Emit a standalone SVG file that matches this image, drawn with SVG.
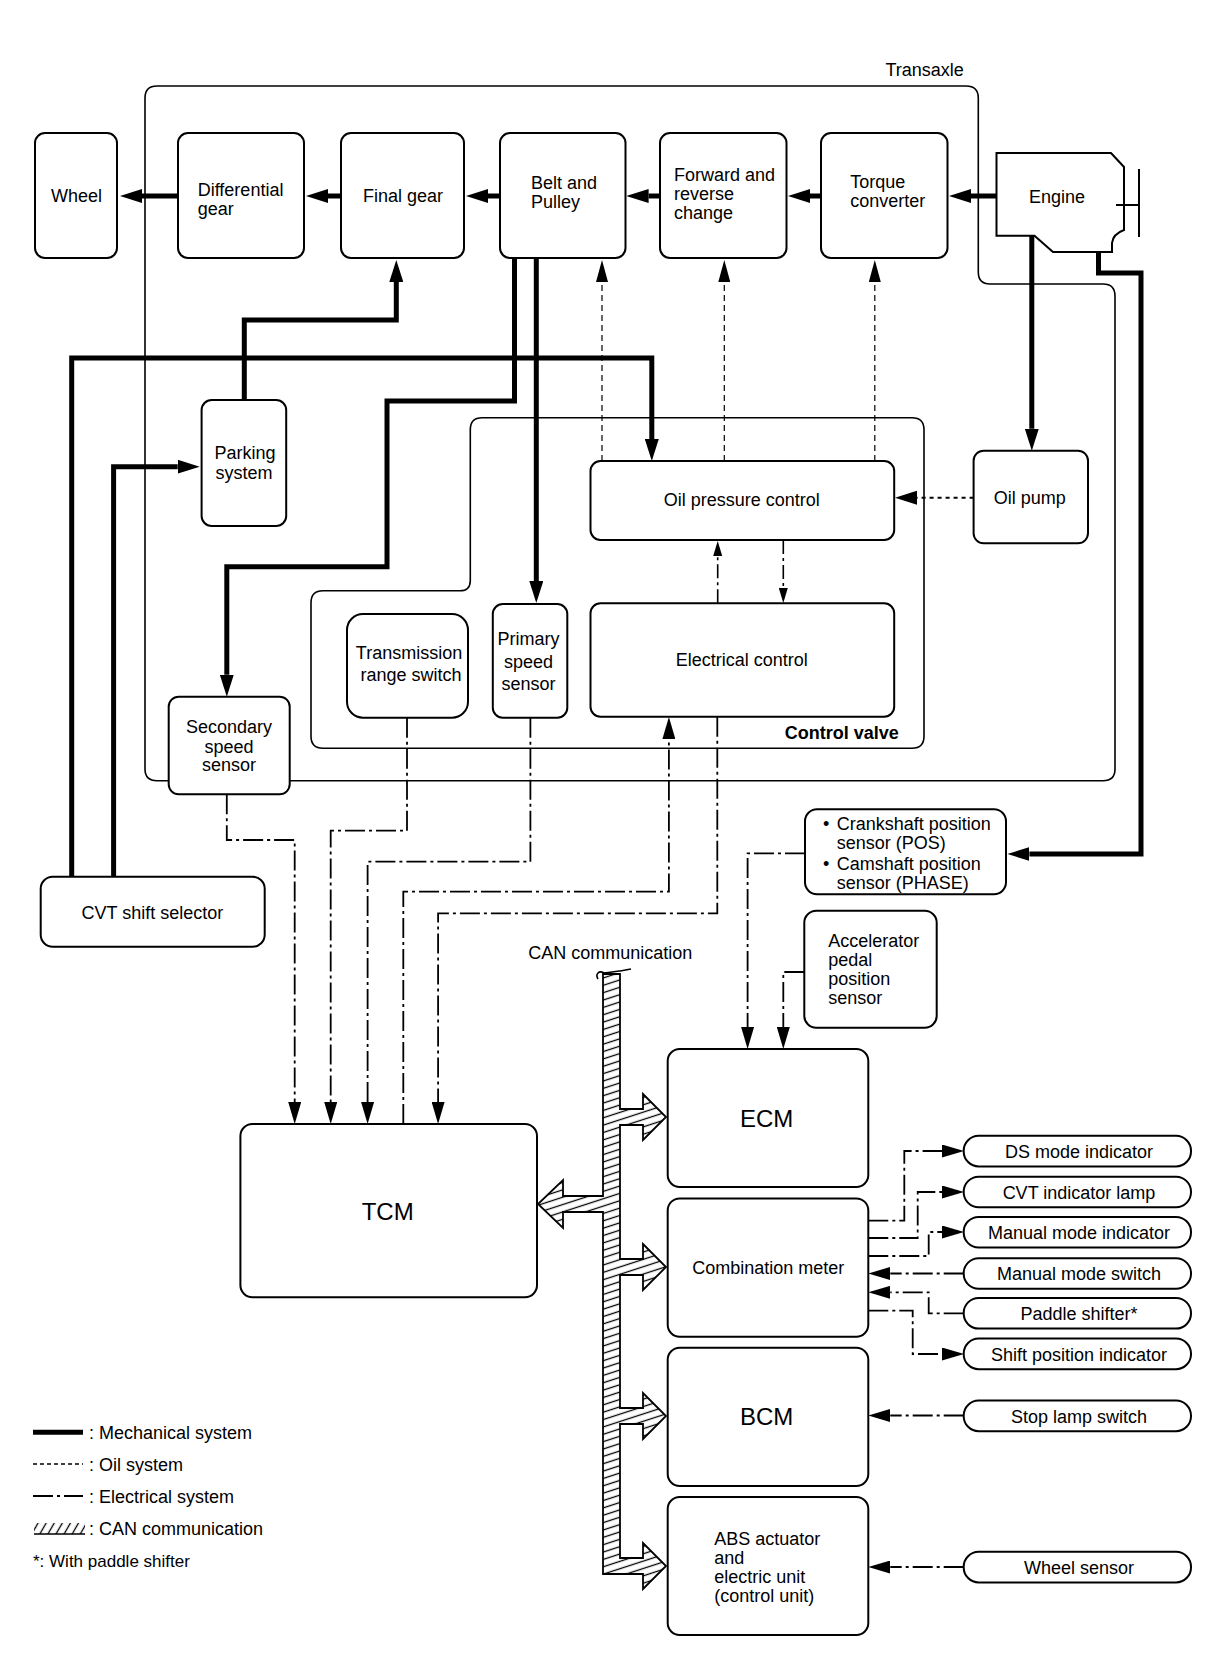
<svg xmlns="http://www.w3.org/2000/svg" width="1216" height="1660" viewBox="0 0 1216 1660">
<style>
.t{font-family:"Liberation Sans",Arial,Helvetica,sans-serif;font-size:18px;fill:#000}
.c{text-anchor:middle}
.e{text-anchor:end}
.b{font-weight:bold}
.big{font-size:24px}
.sm{font-size:17px}
.box{fill:#fff;stroke:#000;stroke-width:2}
.outl{fill:none;stroke:#000;stroke-width:1.6}
.mech{fill:none;stroke:#000;stroke-width:5;stroke-linejoin:miter;marker-end:url(#aM)}
.oil{fill:none;stroke:#000;stroke-width:1.2;stroke-dasharray:6 4;marker-end:url(#aO)}
.oil2{fill:none;stroke:#000;stroke-width:2;stroke-dasharray:4 4;marker-end:url(#aM)}
.elec{fill:none;stroke:#000;stroke-width:1.8;stroke-dasharray:20 4 3 4;marker-end:url(#aE)}
.elecs{fill:none;stroke:#000;stroke-width:1.6;stroke-dasharray:14 4 3 4;marker-end:url(#aS)}
</style>
<defs>
<marker id="aM" markerUnits="userSpaceOnUse" markerWidth="22" markerHeight="14" viewBox="0 0 22 14" refX="0" refY="7" orient="auto"><path d="M0,0 L22,7 L0,14 z" fill="#000"/></marker>
<marker id="aO" markerUnits="userSpaceOnUse" markerWidth="22" markerHeight="12" viewBox="0 0 22 12" refX="0" refY="6" orient="auto"><path d="M0,0 L22,6 L0,12 z" fill="#000"/></marker>
<marker id="aE" markerUnits="userSpaceOnUse" markerWidth="22" markerHeight="13" viewBox="0 0 22 13" refX="0" refY="6.5" orient="auto"><path d="M0,0 L22,6.5 L0,13 z" fill="#000"/></marker>
<marker id="aS" markerUnits="userSpaceOnUse" markerWidth="15" markerHeight="9" viewBox="0 0 15 9" refX="0" refY="4.5" orient="auto"><path d="M0,0 L15,4.5 L0,9 z" fill="#000"/></marker>
<pattern id="hatchBus" patternUnits="userSpaceOnUse" width="12" height="7" patternTransform="rotate(-18)"><rect width="12" height="7" fill="#fff"/><line x1="0" y1="3.5" x2="12" y2="3.5" stroke="#000" stroke-width="1.3"/></pattern>
<pattern id="hatchLeg" patternUnits="userSpaceOnUse" width="7" height="7" patternTransform="rotate(-60)"><rect width="7" height="7" fill="#fff"/><line x1="0" y1="3.5" x2="7" y2="3.5" stroke="#000" stroke-width="1.3"/></pattern>
</defs>
<rect width="1216" height="1660" fill="#fff"/>

<g id="outlines">
<path id="transaxle" class="outl" d="M145,98 Q145,86 157,86 H966 Q978.3,86 978.3,98 V272 Q978.3,284 990,284 H1103 Q1115,284 1115,296 V769 Q1115,780.7 1103,780.7 H157 Q145,780.7 145,769 Z"/>
<text class="t c" x="924.6" y="76">Transaxle</text>
<path id="control-valve" class="outl" d="M482,417.7 H912 Q924,417.7 924,429.7 V736.3 Q924,748.3 912,748.3 H323 Q311,748.3 311,736.3 V602.7 Q311,590.7 323,590.7 H460 Q470.3,590.7 470.3,580.4 V429.7 Q470.3,417.7 482,417.7 Z"/>
<text class="t e b" x="898.8" y="739">Control valve</text>
</g>

<g id="connectors">
<path class="mech" d="M996.5,196 H971"/>
<path class="mech" d="M821,196 H810"/>
<path class="mech" d="M660,196 H648.6"/>
<path class="mech" d="M500,196 H488"/>
<path class="mech" d="M341,196 H328"/>
<path class="mech" d="M178,196 H142"/>
<path class="mech" d="M244.3,400 V320 H396.3 V282"/>
<path class="mech" d="M71.7,876.7 V358 H651.8 V439"/>
<path class="mech" d="M113.6,876.7 V466.7 H177.7"/>
<path class="mech" d="M514.5,258 V401 H387 V566.7 H226.8 V674.7"/>
<path class="mech" d="M536.3,258 V581"/>
<path class="mech" d="M1031.8,236 V428.7"/>
<path class="mech" d="M1098.5,252 V273 H1141 V854 H1029.4"/>
<path class="oil" d="M602,461 V282"/>
<path class="oil" d="M724.3,461 V282"/>
<path class="oil" d="M874.8,461 V282"/>
<path class="oil2" d="M973.6,497.7 H917"/>
<path class="elecs" d="M717.7,603.3 V556"/>
<path class="elecs" d="M783.3,540 V588"/>
<path class="elec" d="M403.3,1124 V891.7 H668.9 V739"/>
<path class="elec" d="M717.3,716.7 V913.3 H438.1 V1102"/>
<path class="elec" d="M226.8,794.3 V840 H294.7 V1102"/>
<path class="elec" d="M407,717.7 V830.7 H330.7 V1102"/>
<path class="elec" d="M530.4,717.7 V861.7 H367.6 V1102"/>
<path class="elec" d="M805,853.3 H747.6 V1027"/>
<path class="elec" d="M804.3,972 H783.3 V1027"/>
<path class="elec" d="M868.3,1220.7 H904.3 V1151 H942"/>
<path class="elec" d="M868.3,1238 H917.7 V1192 H942"/>
<path class="elec" d="M868.3,1256 H928.7 V1232 H942"/>
<path class="elec" d="M963.7,1273.5 H890.3"/>
<path class="elec" d="M963.7,1313.3 H928.7 V1292.3 H890.3"/>
<path class="elec" d="M868.3,1310.7 H912.7 V1354 H942"/>
<path class="elec" d="M963.7,1415.5 H890.3"/>
<path class="elec" d="M963.7,1567 H890.3"/>
<g id="can-bus">
<path d="M603,974 H620 V1109 H643 V1094 L666,1117 L643,1140 V1125 H620 V1259 H643 V1244 L666,1267 L643,1290 V1275 H620 V1408 H643 V1393 L666,1416 L643,1439 V1424 H620 V1558 H643 V1543 L666,1566 L643,1589 V1574 H603 V1212 H563 V1228 L538,1204 L563,1180 V1196 H603 Z" fill="url(#hatchBus)" stroke="#000" stroke-width="1.8" stroke-linejoin="miter"/>
<path d="M598,979 C595,974 599,970 604,973 C612,972 622,971 631,969" fill="none" stroke="#000" stroke-width="1.6"/>
</g>
</g>

<g id="wheel"><rect class="box" x="35" y="133" width="82" height="125" rx="10"/><text class="t c" x="76.6" y="202">Wheel</text></g>
<g id="differential-gear"><rect class="box" x="178" y="133" width="126" height="125" rx="10"/><text class="t" x="197.7" y="196">Differential</text><text class="t" x="197.7" y="215">gear</text></g>
<g id="final-gear"><rect class="box" x="341" y="133" width="123" height="125" rx="10"/><text class="t c" x="403" y="202">Final gear</text></g>
<g id="belt-pulley"><rect class="box" x="500" y="133" width="125.5" height="125" rx="10"/><text class="t" x="531" y="189">Belt and</text><text class="t" x="531" y="208">Pulley</text></g>
<g id="forward-reverse"><rect class="box" x="660" y="133" width="126.5" height="125" rx="10"/><text class="t" x="673.9" y="181">Forward and</text><text class="t" x="673.9" y="200">reverse</text><text class="t" x="673.9" y="219">change</text></g>
<g id="torque-converter"><rect class="box" x="821" y="133" width="126.5" height="125" rx="10"/><text class="t" x="850.3" y="188">Torque</text><text class="t" x="850.3" y="207">converter</text></g>
<g id="engine"><path class="box" d="M996.5,153 H1111 L1124,167 V230 Q1113,234 1112,243 V252 H1053 L1034.5,235.7 H996.5 Z"/><path d="M1139,169 V237 M1116,205 H1139" fill="none" stroke="#000" stroke-width="2"/><text class="t c" x="1057" y="203">Engine</text></g>
<g id="parking-system"><rect class="box" x="201.6" y="400" width="84.6" height="126" rx="10"/><text class="t c" x="245" y="459">Parking</text><text class="t c" x="244" y="479">system</text></g>
<g id="oil-pressure-control"><rect class="box" x="590.5" y="461" width="303.7" height="79" rx="10"/><text class="t c" x="741.8" y="506">Oil pressure control</text></g>
<g id="oil-pump"><rect class="box" x="973.6" y="450.7" width="114.4" height="92.6" rx="10"/><text class="t c" x="1029.7" y="504">Oil pump</text></g>
<g id="electrical-control"><rect class="box" x="590.5" y="603.3" width="303.7" height="113.4" rx="10"/><text class="t c" x="741.8" y="666">Electrical control</text></g>
<g id="transmission-range-switch"><rect class="box" x="347" y="614" width="121" height="103.7" rx="16"/><text class="t c" x="409" y="659">Transmission</text><text class="t c" x="411" y="681">range switch</text></g>
<g id="primary-speed-sensor"><rect class="box" x="492.8" y="604" width="74.5" height="113.7" rx="10"/><text class="t c" x="528.5" y="645">Primary</text><text class="t c" x="528.5" y="668">speed</text><text class="t c" x="528.5" y="690">sensor</text></g>
<g id="secondary-speed-sensor"><rect class="box" x="168.7" y="696.7" width="121" height="97.6" rx="10"/><text class="t c" x="229" y="733">Secondary</text><text class="t c" x="229" y="753">speed</text><text class="t c" x="229" y="771">sensor</text></g>
<g id="cvt-shift-selector"><rect class="box" x="40.7" y="876.7" width="224" height="70" rx="12"/><text class="t c" x="152.4" y="919">CVT shift selector</text></g>
<g id="crank-cam-sensors"><rect class="box" x="805" y="809.3" width="201" height="85" rx="12"/><text class="t" x="823" y="830">•</text><text class="t" x="836.8" y="830">Crankshaft position</text><text class="t" x="836.8" y="849">sensor (POS)</text><text class="t" x="823" y="870">•</text><text class="t" x="836.8" y="870">Camshaft position</text><text class="t" x="836.8" y="889">sensor (PHASE)</text></g>
<g id="accelerator-sensor"><rect class="box" x="804.3" y="910.8" width="132.4" height="117" rx="12"/><text class="t" x="828.3" y="947">Accelerator</text><text class="t" x="828.3" y="966">pedal</text><text class="t" x="828.3" y="985">position</text><text class="t" x="828.3" y="1004">sensor</text></g>
<text class="t" x="528.3" y="959">CAN communication</text>
<g id="tcm"><rect class="box" x="240.4" y="1124" width="296.6" height="173.3" rx="12"/><text class="t c big" x="387.7" y="1220">TCM</text></g>
<g id="ecm"><rect class="box" x="667.7" y="1049" width="200.6" height="138" rx="12"/><text class="t c big" x="766.7" y="1127">ECM</text></g>
<g id="combination-meter"><rect class="box" x="667.7" y="1198.4" width="200.6" height="138.3" rx="12"/><text class="t c" x="768.3" y="1274">Combination meter</text></g>
<g id="bcm"><rect class="box" x="667.7" y="1347.7" width="200.6" height="138.3" rx="12"/><text class="t c big" x="766.7" y="1425">BCM</text></g>
<g id="abs"><rect class="box" x="667.7" y="1497" width="200.6" height="138" rx="12"/><text class="t" x="714.3" y="1545">ABS actuator</text><text class="t" x="714.3" y="1564">and</text><text class="t" x="714.3" y="1583">electric unit</text><text class="t" x="714.3" y="1602">(control unit)</text></g>
<g id="ds-mode-indicator"><rect class="box" x="963.7" y="1135.8" width="227.3" height="30.6" rx="15"/><text class="t c" x="1079" y="1157.5">DS mode indicator</text></g>
<g id="cvt-indicator-lamp"><rect class="box" x="963.7" y="1176.7" width="227.3" height="30.6" rx="15"/><text class="t c" x="1079" y="1198.5">CVT indicator lamp</text></g>
<g id="manual-mode-indicator"><rect class="box" x="963.7" y="1216.9" width="227.3" height="30.6" rx="15"/><text class="t c" x="1079" y="1238.5">Manual mode indicator</text></g>
<g id="manual-mode-switch"><rect class="box" x="963.7" y="1258.2" width="227.3" height="30.6" rx="15"/><text class="t c" x="1079" y="1280">Manual mode switch</text></g>
<g id="paddle-shifter"><rect class="box" x="963.7" y="1298" width="227.3" height="30.6" rx="15"/><text class="t c" x="1079" y="1320">Paddle shifter*</text></g>
<g id="shift-position-indicator"><rect class="box" x="963.7" y="1338.6" width="227.3" height="30.6" rx="15"/><text class="t c" x="1079" y="1360.5">Shift position indicator</text></g>
<g id="stop-lamp-switch"><rect class="box" x="963.7" y="1400.6" width="227.3" height="30.6" rx="15"/><text class="t c" x="1079" y="1422.5">Stop lamp switch</text></g>
<g id="wheel-sensor"><rect class="box" x="963.7" y="1551.8" width="227.3" height="30.6" rx="15"/><text class="t c" x="1079" y="1573.5">Wheel sensor</text></g>

<g id="legend">
<line x1="33" y1="1432.3" x2="83" y2="1432.3" stroke="#000" stroke-width="5"/>
<text class="t" x="89" y="1438.5">: Mechanical system</text>
<line x1="33" y1="1464" x2="83" y2="1464" stroke="#000" stroke-width="1.5" stroke-dasharray="4 3"/>
<text class="t" x="89" y="1470.5">: Oil system</text>
<line x1="33" y1="1496" x2="83" y2="1496" stroke="#000" stroke-width="1.8" stroke-dasharray="20 4 3 4"/>
<text class="t" x="89" y="1502.5">: Electrical system</text>
<rect x="34" y="1523" width="51" height="11" fill="url(#hatchLeg)"/>
<line x1="34" y1="1534" x2="85" y2="1534" stroke="#000" stroke-width="1.5"/>
<text class="t" x="89" y="1535">: CAN communication</text>
<text class="t sm" x="33" y="1567">*: With paddle shifter</text>
</g>
</svg>
